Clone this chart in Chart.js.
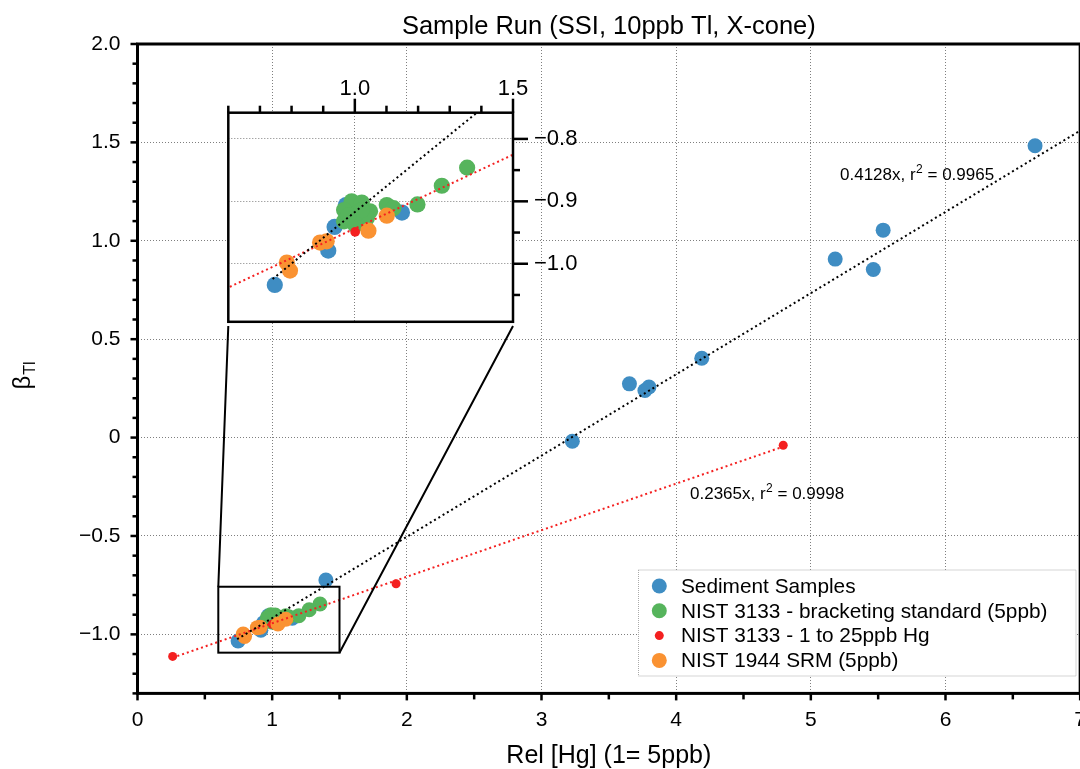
<!DOCTYPE html>
<html>
<head>
<meta charset="utf-8">
<script src="https://cdn.jsdelivr.net/npm/chart.js@4.4.1/dist/chart.umd.min.js"></script>
<style>
  html, body { margin: 0; padding: 0; overflow: hidden; background: #fff; }
  #wrap { position: relative; width: 1080px; height: 769px; overflow: hidden; }
  #mainChart { position: absolute; left: 0; top: 0; }
  #insetChart { position: absolute; }
</style>
</head>
<body>
<div id="wrap">
  <canvas id="mainChart" width="1100" height="769"></canvas>
  <canvas id="insetChart"></canvas>
</div>
<script>
// Relative Hg concentration (x) vs beta Tl (y) for each group of runs
const sedimentX = [6.665, 5.537, 5.181, 5.464, 4.190, 3.653, 3.768, 3.798, 3.229, 1.399, 0.747, 0.916, 0.936, 1.149, 0.972];
const sedimentY = [1.483, 1.054, 0.907, 0.854, 0.403, 0.273, 0.239, 0.257, -0.019, -0.724, -1.034, -0.979, -0.941, -0.918, -0.906];
const bracketX = [1.355, 1.275, 1.198, 1.101, 1.122, 0.990, 1.022, 0.966, 1.048, 1.038, 0.966, 1.001, 1.006, 0.980, 1.022];
const bracketY = [-0.846, -0.875, -0.905, -0.906, -0.911, -0.900, -0.902, -0.914, -0.916, -0.927, -0.932, -0.938, -0.919, -0.922, -0.914];
const hgSeriesX = [0.261, 1.001, 1.920, 4.795];
const hgSeriesY = [-1.112, -0.949, -0.743, -0.039];
const srmX = [0.785, 0.795, 0.890, 0.911, 1.043, 1.101];
const srmY = [-0.998, -1.011, -0.966, -0.964, -0.947, -0.923];

const seriesLabels = [
  'Sediment Samples',
  'NIST 3133 - bracketing standard (5ppb)',
  'NIST 3133 - 1 to 25ppb Hg',
  'NIST 1944 SRM (5ppb)',
];

// linear fits: sediment samples and the Hg dilution series
const fitSlopes = [0.4128, 0.2365];
const fitIntercepts = [-1.33, -1.18];
const fitR2 = [0.9965, 0.9998];
const fitRanges = [[0.74, 7.3], [0.261, 4.795]];

const mainXRange = [0, 7];
const mainYRange = [-1.3, 2.0];
const insetXRange = [0.6, 1.5];
const insetYRange = [-1.093, -0.758];

const chartTitle = 'Sample Run (SSI, 10ppb Tl, X-cone)';
const xTitle = 'Rel [Hg] (1= 5ppb)';

const COLORS = ['#3f8dc3', '#56b45c', '#f42020', '#fa9232'];
const RADII = [7.5, 7.5, 4.5, 7.5];
const FIT_COLORS = ['#000', '#f42020'];
const GRID = 'rgba(0,0,0,0.5)';
const FONT = "'Liberation Sans', Arial, Helvetica, sans-serif";

// page positions of the inset axes box and its canvas
const insetBox = { left: 228.3, top: 112.7, right: 513, bottom: 326 };
const insetCanvas = { left: 190, top: 56, width: 430, height: 300 };

Chart.defaults.font.family = FONT;
Chart.defaults.color = '#000';

function onStep(v, step) {
  return Math.abs(v / step - Math.round(v / step)) < 1e-6;
}

function fmt(v, digits) {
  const s = Math.abs(v) < 1e-9 ? '0' : v.toFixed(digits);
  return s.replace('-', '\u2212');
}

function toPoints(xs, ys) {
  return xs.map((x, i) => ({ x, y: ys[i] }));
}

function fitPoints(i) {
  return fitRanges[i].map(x => ({ x, y: fitSlopes[i] * x + fitIntercepts[i] }));
}

function buildDatasets(markerScale) {
  const groups = [[sedimentX, sedimentY], [bracketX, bracketY], [hgSeriesX, hgSeriesY], [srmX, srmY]];
  const order = [5, 4, 3, 2];
  const points = groups.map(([xs, ys], i) => ({
    type: 'scatter',
    label: seriesLabels[i],
    data: toPoints(xs, ys),
    backgroundColor: COLORS[i],
    pointRadius: RADII[i] * markerScale,
    pointHoverRadius: RADII[i] * markerScale,
    pointBorderWidth: 0,
    order: order[i],
  }));
  const fits = fitSlopes.map((s, i) => ({
    type: 'line',
    data: fitPoints(i),
    borderColor: FIT_COLORS[i],
    borderWidth: 2,
    borderDash: [2, 3],
    pointRadius: 0,
    fill: false,
    order: i,
  }));
  return points.concat(fits);
}

function drawTicks(chart, id, side, majorStep, majorLen, minorLen) {
  const { ctx, chartArea: a } = chart;
  const scale = chart.scales[id];
  ctx.save();
  ctx.strokeStyle = '#000';
  ctx.lineWidth = 2.5;
  scale.ticks.forEach(t => {
    const p = scale.getPixelForValue(t.value);
    const len = onStep(t.value, majorStep) ? majorLen : minorLen;
    ctx.beginPath();
    if (side === 'left') { ctx.moveTo(a.left, p); ctx.lineTo(a.left - len, p); }
    if (side === 'right') { ctx.moveTo(a.right, p); ctx.lineTo(a.right + len, p); }
    if (side === 'bottom') { ctx.moveTo(p, a.bottom); ctx.lineTo(p, a.bottom + len); }
    if (side === 'top') { ctx.moveTo(p, a.top); ctx.lineTo(p, a.top - len); }
    ctx.stroke();
  });
  ctx.restore();
}

function drawFrame(chart, width) {
  const { ctx, chartArea: a } = chart;
  ctx.save();
  ctx.strokeStyle = '#000';
  ctx.lineWidth = width;
  ctx.strokeRect(a.left, a.top, a.right - a.left, a.bottom - a.top);
  ctx.restore();
}

function drawZoomMarks(chart) {
  const { ctx } = chart;
  const xs = chart.scales.x;
  const ys = chart.scales.y;
  const x0 = xs.getPixelForValue(insetXRange[0]);
  const x1 = xs.getPixelForValue(insetXRange[1]);
  const y0 = ys.getPixelForValue(insetYRange[1]);
  const y1 = ys.getPixelForValue(insetYRange[0]);
  ctx.save();
  ctx.strokeStyle = '#000';
  ctx.lineWidth = 2;
  ctx.strokeRect(x0, y0, x1 - x0, y1 - y0);
  ctx.beginPath();
  ctx.moveTo(x0, y0);
  ctx.lineTo(insetBox.left, insetBox.bottom);
  ctx.moveTo(x1, y1);
  ctx.lineTo(insetBox.right, insetBox.bottom);
  ctx.stroke();
  ctx.restore();
}

function drawFitLabel(ctx, i, x, y) {
  const head = `${fitSlopes[i]}x, r`;
  const tail = ` = ${fitR2[i]}`;
  ctx.save();
  ctx.fillStyle = '#000';
  ctx.textBaseline = 'alphabetic';
  ctx.textAlign = 'left';
  ctx.font = `17px ${FONT}`;
  ctx.fillText(head, x, y);
  let w = ctx.measureText(head).width;
  ctx.font = `12px ${FONT}`;
  ctx.fillText('2', x + w + 0.5, y - 7);
  w += ctx.measureText('2').width + 0.5;
  ctx.font = `17px ${FONT}`;
  ctx.fillText(tail, x + w, y);
  ctx.restore();
}

function drawLegend(ctx) {
  const box = { left: 638.5, top: 570, right: 1076, bottom: 676 };
  ctx.save();
  ctx.fillStyle = '#fff';
  ctx.fillRect(box.left, box.top, box.right - box.left, box.bottom - box.top);
  ctx.strokeStyle = '#aaa';
  ctx.lineWidth = 1;
  ctx.setLineDash([1, 1]);
  ctx.strokeRect(box.left, box.top, box.right - box.left, box.bottom - box.top);
  ctx.setLineDash([]);
  ctx.font = `20.8px ${FONT}`;
  ctx.textBaseline = 'middle';
  seriesLabels.forEach((label, i) => {
    const y = 586 + i * 24.8;
    ctx.fillStyle = COLORS[i];
    ctx.beginPath();
    ctx.arc(659.3, y, RADII[i], 0, Math.PI * 2);
    ctx.fill();
    ctx.fillStyle = '#000';
    ctx.fillText(label, 681, y + 1);
  });
  ctx.restore();
}

function drawTitles(chart) {
  const { ctx, chartArea: a } = chart;
  const cx = (a.left + a.right) / 2;
  ctx.save();
  ctx.fillStyle = '#000';
  ctx.textAlign = 'center';
  ctx.textBaseline = 'middle';
  ctx.font = `25.5px ${FONT}`;
  ctx.fillText(chartTitle, cx, 27);
  ctx.font = `25px ${FONT}`;
  ctx.fillText(xTitle, cx, 756);

  // beta with Tl subscript, reading upwards
  ctx.translate(30, 376);
  ctx.rotate(-Math.PI / 2);
  ctx.textAlign = 'left';
  ctx.textBaseline = 'alphabetic';
  ctx.font = `24px ${FONT}`;
  const wb = ctx.measureText('\u03b2').width;
  ctx.font = `16px ${FONT}`;
  const ws = ctx.measureText('Tl').width;
  const start = -(wb + ws) / 2;
  ctx.font = `24px ${FONT}`;
  ctx.fillText('\u03b2', start, 0);
  ctx.font = `16px ${FONT}`;
  ctx.fillText('Tl', start + wb + 1, 5);
  ctx.restore();
}

const mainDecor = {
  id: 'mainDecor',
  afterDatasetsDraw(chart) {
    drawZoomMarks(chart);
  },
  afterDraw(chart) {
    drawFrame(chart, 3);
    drawTicks(chart, 'y', 'left', 0.5, 7, 5);
    drawTicks(chart, 'x', 'bottom', 1, 7, 6);
    drawTitles(chart);
    drawFitLabel(chart.ctx, 0, 840, 180);
    drawFitLabel(chart.ctx, 1, 690, 499);
    drawLegend(chart.ctx);
  },
};

const insetDecor = {
  id: 'insetDecor',
  beforeDraw(chart) {
    const { ctx, chartArea: a } = chart;
    ctx.save();
    ctx.fillStyle = '#fff';
    ctx.fillRect(a.left, a.top, a.right - a.left, a.bottom - a.top);
    ctx.restore();
  },
  afterDraw(chart) {
    drawFrame(chart, 2.5);
    drawTicks(chart, 'x', 'top', 0.5, 14, 7);
    drawTicks(chart, 'y', 'right', 0.1, 15, 7);
  },
};

function gridColor(step) {
  return ctx => (ctx.tick && onStep(ctx.tick.value, step) ? GRID : 'transparent');
}

function drawMainChart(canvas) {
  new Chart(canvas, {
    type: 'scatter',
    data: { datasets: buildDatasets(1) },
    options: {
      responsive: false,
      animation: false,
      events: [],
      layout: { padding: { left: 0, top: 44, right: 17.5, bottom: 0 } },
      plugins: { legend: { display: false }, tooltip: { enabled: false } },
      scales: {
        x: {
          type: 'linear',
          min: mainXRange[0],
          max: mainXRange[1],
          afterFit: s => { s.height = 769 - 693.4; },
          afterBuildTicks: s => { s.ticks = s.ticks.filter(t => onStep(t.value, 0.5)); },
          ticks: {
            stepSize: 0.5,
            autoSkip: false,
            maxRotation: 0,
            padding: 14,
            font: { size: 21 },
            callback: v => (onStep(v, 1) ? fmt(v, 0) : ''),
          },
          grid: { drawTicks: false, lineWidth: 1, color: gridColor(1) },
          border: { display: false, dash: [1, 2] },
        },
        y: {
          type: 'linear',
          min: mainYRange[0],
          max: mainYRange[1],
          afterFit: s => { s.width = 137.5; },
          afterBuildTicks: s => { s.ticks = s.ticks.filter(t => onStep(t.value, 0.1)); },
          ticks: {
            stepSize: 0.1,
            autoSkip: false,
            padding: 17,
            font: { size: 21 },
            callback: v => (onStep(v, 0.5) ? fmt(v, 1) : ''),
          },
          grid: { drawTicks: false, lineWidth: 1, color: gridColor(0.5) },
          border: { display: false, dash: [1, 2] },
        },
      },
    },
    plugins: [mainDecor],
  });
}

function drawInsetChart(canvas) {
  canvas.width = insetCanvas.width;
  canvas.height = insetCanvas.height;
  canvas.style.left = insetCanvas.left + 'px';
  canvas.style.top = insetCanvas.top + 'px';

  new Chart(canvas, {
    type: 'scatter',
    data: { datasets: buildDatasets(1.08) },
    options: {
      responsive: false,
      animation: false,
      events: [],
      layout: {
        padding: {
          left: insetBox.left - insetCanvas.left,
          top: 0,
          right: 0,
          bottom: insetCanvas.top + insetCanvas.height - insetBox.bottom,
        },
      },
      plugins: { legend: { display: false }, tooltip: { enabled: false } },
      scales: {
        x: {
          type: 'linear',
          position: 'top',
          min: insetXRange[0],
          max: insetXRange[1],
          afterFit: s => { s.height = insetBox.top - insetCanvas.top; },
          afterBuildTicks: s => { s.ticks = s.ticks.filter(t => onStep(t.value, 0.1)); },
          ticks: {
            stepSize: 0.1,
            autoSkip: false,
            maxRotation: 0,
            padding: 11,
            font: { size: 22 },
            callback: v => (onStep(v, 0.5) ? fmt(v, 1) : ''),
          },
          grid: { drawTicks: false, lineWidth: 1, color: gridColor(0.5) },
          border: { display: false, dash: [1, 2] },
        },
        y: {
          type: 'linear',
          position: 'right',
          min: insetYRange[0],
          max: insetYRange[1],
          afterFit: s => { s.width = insetCanvas.left + insetCanvas.width - insetBox.right; },
          afterBuildTicks: s => { s.ticks = s.ticks.filter(t => onStep(t.value, 0.05)); },
          ticks: {
            stepSize: 0.05,
            autoSkip: false,
            padding: 21,
            font: { size: 22 },
            callback: v => (onStep(v, 0.1) ? fmt(v, 1) : ''),
          },
          grid: { drawTicks: false, lineWidth: 1, color: gridColor(0.1) },
          border: { display: false, dash: [1, 2] },
        },
      },
    },
    plugins: [insetDecor],
  });
}

window.addEventListener('DOMContentLoaded', () => {
  drawMainChart(document.getElementById('mainChart'));
  drawInsetChart(document.getElementById('insetChart'));
});
</script>
</body>
</html>
